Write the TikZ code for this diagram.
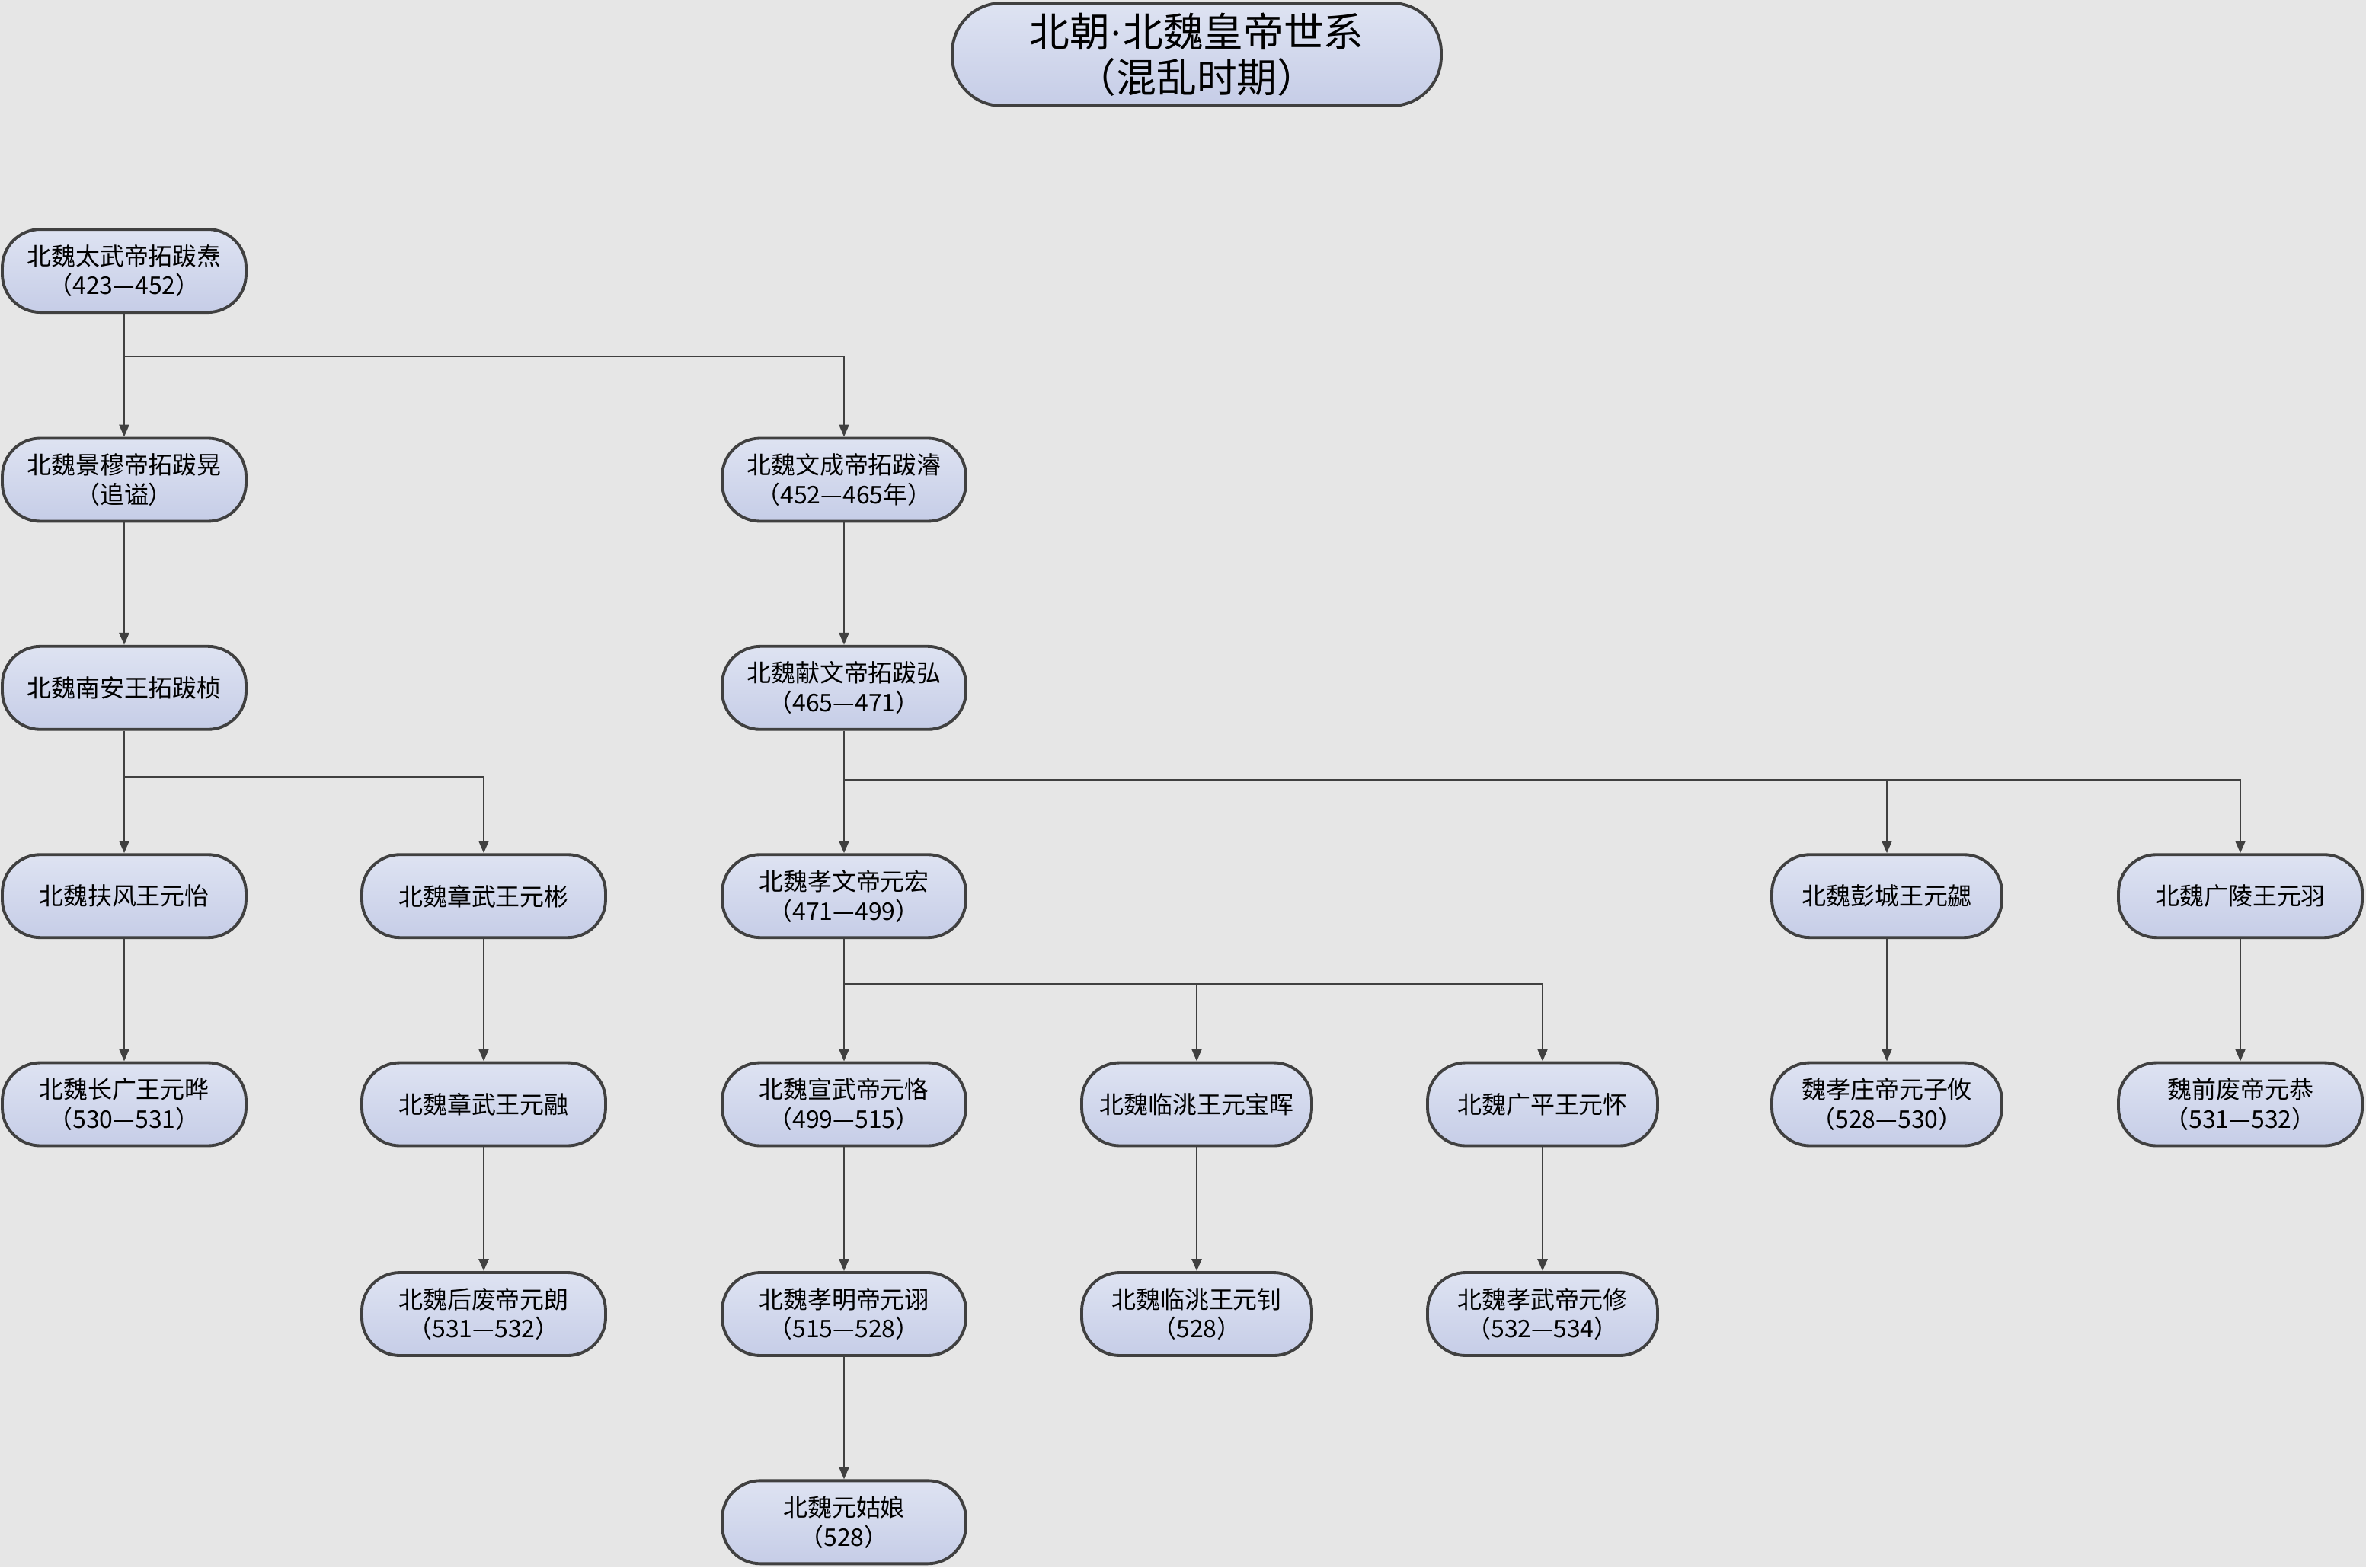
\documentclass[tikz,border=0pt]{standalone}
\usepackage{fontspec}
\setmainfont{Noto Sans CJK SC}
\newfontfamily\latinfont{Liberation Serif}
\usetikzlibrary{arrows.meta}
\definecolor{bggray}{RGB}{230,230,230}
\definecolor{boxtop}{RGB}{222,227,242}
\definecolor{boxbot}{RGB}{198,205,231}
\definecolor{edgegray}{RGB}{64,64,64}

\begin{document}
\begin{tikzpicture}[y=-1cm,
	emp/.style={draw=edgegray, line width=1.1pt, rounded corners=5mm, top color=boxtop, bottom color=boxbot,
		minimum width=3.2cm, minimum height=1.09cm, inner sep=0pt, align=center, font=\fontsize{9.1}{11}\selectfont},
	empn/.style={emp, minimum width=3.02cm},
	ttl/.style={emp, minimum width=6.42cm, minimum height=1.35cm, rounded corners=6.5mm, font=\fontsize{15}{17}\selectfont},
	conn/.style={draw=edgegray, line width=0.75pt, -{Triangle[length=1.6mm,width=1.3mm]}}]

		\fill [bggray] (0,0) rectangle (31.06,20.58);
		\useasboundingbox (0,0) rectangle (31.06,20.58);

		% title
		\node [ttl] (title) at (15.71,0.715) {北朝{\latinfont ·}北魏皇帝世系\\（混乱时期）};

		% rows
		\node [emp] (taiwu) at (1.63,3.556) {北魏太武帝拓跋焘\\（423—452）};

		\node [emp] (jingmu) at (1.63,6.30) {北魏景穆帝拓跋晃\\（追谥）};
		\node [emp] (wencheng) at (11.08,6.30) {北魏文成帝拓跋濬\\（452—465年）};

		\node [emp] (nanan) at (1.63,9.033) {北魏南安王拓跋桢};
		\node [emp] (xianwen) at (11.08,9.033) {北魏献文帝拓跋弘\\（465—471）};

		\node [emp] (fufeng) at (1.63,11.767) {北魏扶风王元怡};
		\node [emp] (zhangwu) at (6.35,11.767) {北魏章武王元彬};
		\node [emp] (xiaowen) at (11.08,11.767) {北魏孝文帝元宏\\（471—499）};
		\node [empn] (pengcheng) at (24.77,11.767) {北魏彭城王元勰};
		\node [emp] (guangling) at (29.41,11.767) {北魏广陵王元羽};

		\node [emp] (changguang) at (1.63,14.50) {北魏长广王元晔\\（530—531）};
		\node [emp] (zhangwurong) at (6.35,14.50) {北魏章武王元融};
		\node [emp] (xuanwu) at (11.08,14.50) {北魏宣武帝元恪\\（499—515）};
		\node [empn] (lintao) at (15.71,14.50) {北魏临洮王元宝晖};
		\node [empn] (guangping) at (20.25,14.50) {北魏广平王元怀};
		\node [empn] (xiaozhuang) at (24.77,14.50) {魏孝庄帝元子攸\\（528—530）};
		\node [emp] (qianfei) at (29.41,14.50) {魏前废帝元恭\\（531—532）};

		\node [emp] (houfei) at (6.35,17.255) {北魏后废帝元朗\\（531—532）};
		\node [emp] (xiaoming) at (11.08,17.255) {北魏孝明帝元诩\\（515—528）};
		\node [empn] (lintaozhao) at (15.71,17.255) {北魏临洮王元钊\\（528）};
		\node [empn] (xiaowu) at (20.25,17.255) {北魏孝武帝元修\\（532—534）};

		\node [emp] (guniang) at (11.08,19.988) {北魏元姑娘\\（528）};

		% branch points
		\coordinate (b1) at (1.63,4.68);
		\coordinate (b2) at (1.63,10.20);
		\coordinate (b3) at (11.08,10.24);
		\coordinate (b4) at (11.08,12.92);

		\draw [conn] (taiwu.south) -- (b1) -| (wencheng.north);
		\draw [conn] (b1) -- (jingmu.north);
		\draw [conn] (jingmu) -- (nanan);
		\draw [conn] (wencheng) -- (xianwen);

		\draw [conn] (nanan.south) -- (b2) -| (zhangwu.north);
		\draw [conn] (b2) -- (fufeng.north);
		\draw [conn] (xianwen.south) -- (b3) -| (guangling.north);
		\draw [conn] (b3) -| (pengcheng.north);
		\draw [conn] (b3) -- (xiaowen.north);

		\draw [conn] (fufeng) -- (changguang);
		\draw [conn] (zhangwu) -- (zhangwurong);
		\draw [conn] (zhangwurong) -- (houfei);
		\draw [conn] (pengcheng) -- (xiaozhuang);
		\draw [conn] (guangling) -- (qianfei);

		\draw [conn] (xiaowen.south) -- (b4) -| (guangping.north);
		\draw [conn] (b4) -| (lintao.north);
		\draw [conn] (b4) -- (xuanwu.north);
		\draw [conn] (xuanwu) -- (xiaoming);
		\draw [conn] (xiaoming) -- (guniang);
		\draw [conn] (lintao) -- (lintaozhao);
		\draw [conn] (guangping) -- (xiaowu);

\end{tikzpicture}
\end{document}
